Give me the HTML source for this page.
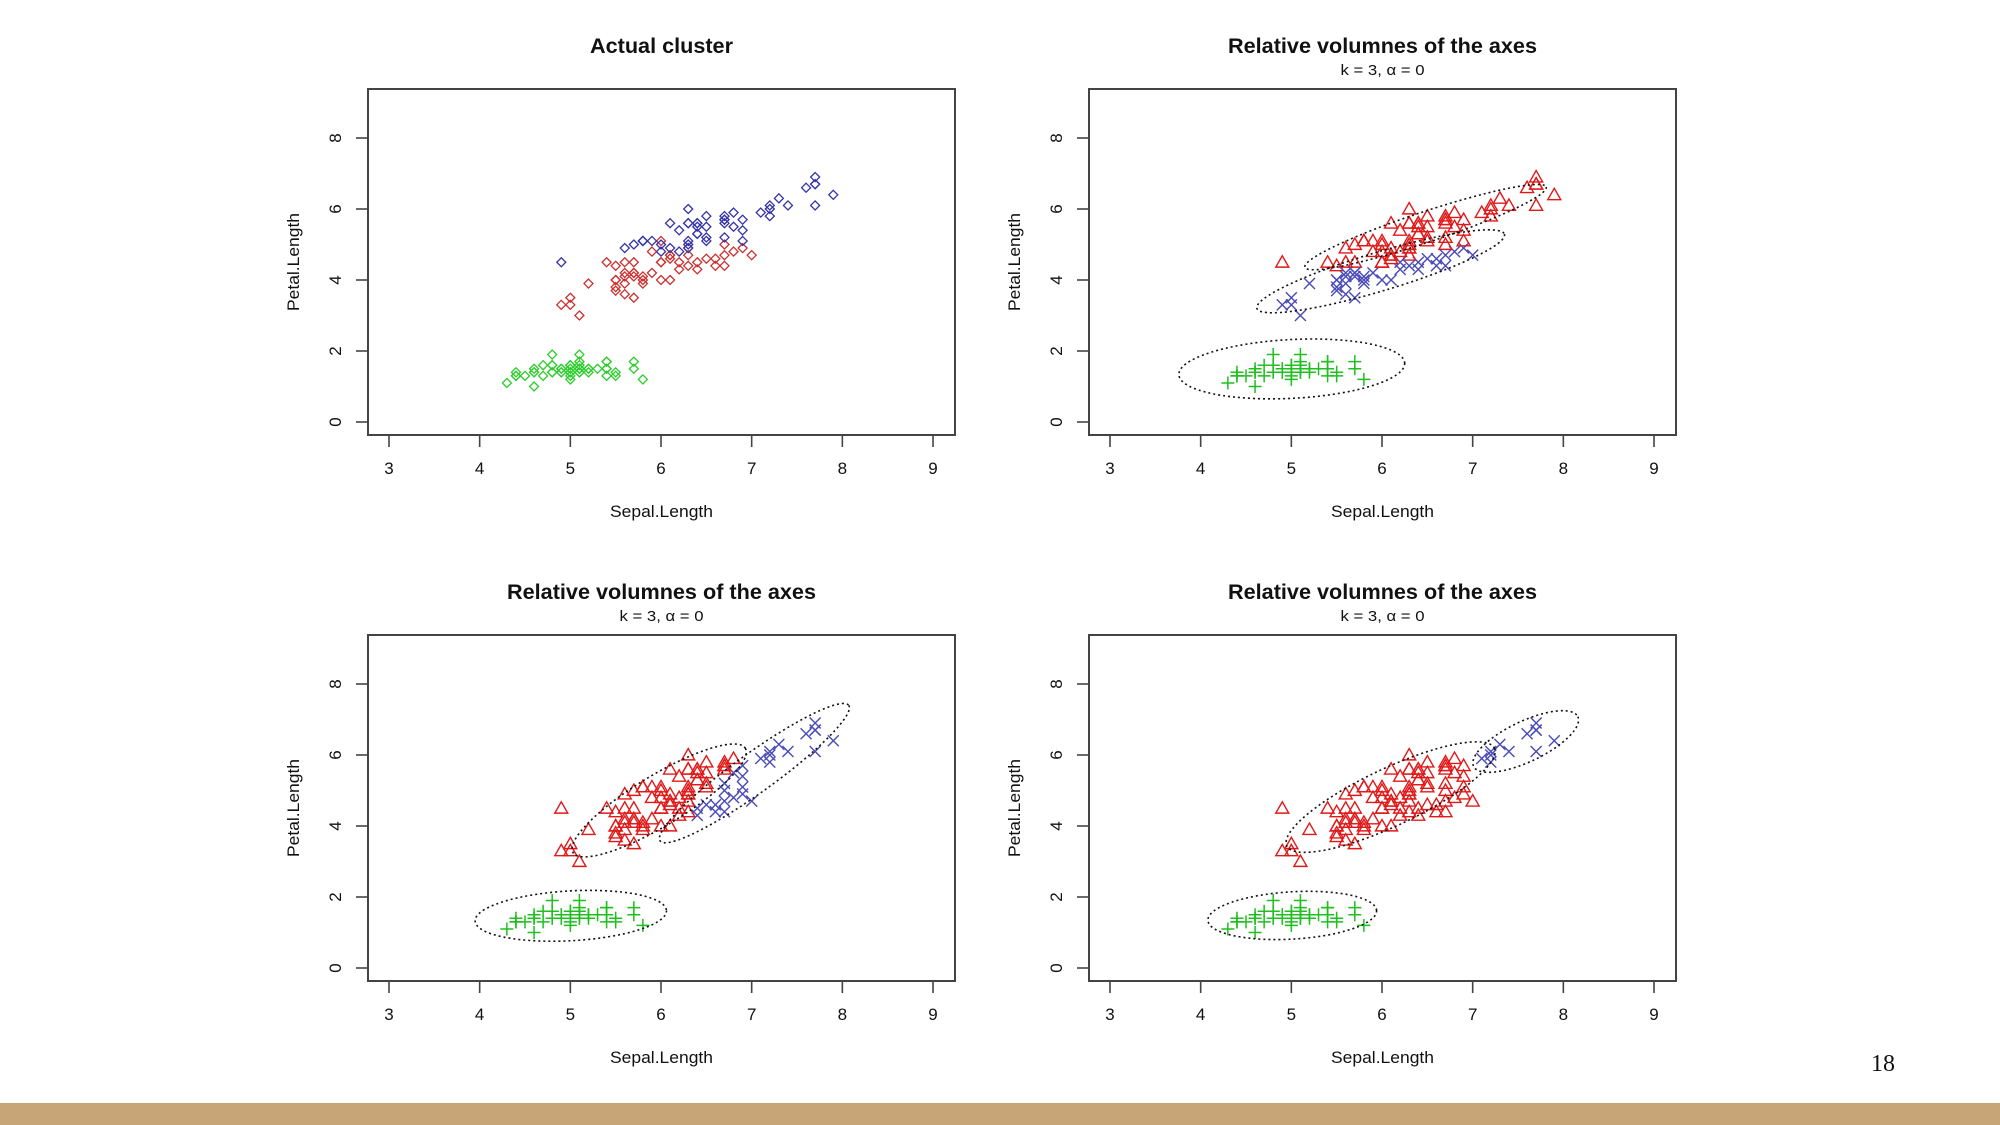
<!DOCTYPE html>
<html><head><meta charset="utf-8"><title>Iris clusters</title>
<style>
html,body{margin:0;padding:0;background:#fff;}
svg{display:block;}
text{font-family:"Liberation Sans",Arial,sans-serif;fill:#111;}
</style></head>
<body>
<svg id="chart" width="2000" height="1125" viewBox="0 0 2000 1125" xmlns="http://www.w3.org/2000/svg">
<rect x="0" y="0" width="2000" height="1125" fill="#fff"/>
<rect x="0" y="1103" width="2000" height="22" fill="#c8a576"/>
<text x="1883" y="1071" font-size="24" text-anchor="middle" style="font-family:'Liberation Serif',serif">18</text>
</svg>
<script>
const sepalLength = [5.1,4.9,4.7,4.6,5.0,5.4,4.6,5.0,4.4,4.9,5.4,4.8,4.8,4.3,5.8,5.7,5.4,5.1,5.7,5.1,5.4,5.1,4.6,5.1,4.8,5.0,5.0,5.2,5.2,4.7,4.8,5.4,5.2,5.5,4.9,5.0,5.5,4.9,4.4,5.1,5.0,4.5,4.4,5.0,5.1,4.8,5.1,4.6,5.3,5.0,
7.0,6.4,6.9,5.5,6.5,5.7,6.3,4.9,6.6,5.2,5.0,5.9,6.0,6.1,5.6,6.7,5.6,5.8,6.2,5.6,5.9,6.1,6.3,6.1,6.4,6.6,6.8,6.7,6.0,5.7,5.5,5.5,5.8,6.0,5.4,6.0,6.7,6.3,5.6,5.5,5.5,6.1,5.8,5.0,5.6,5.7,5.7,6.2,5.1,5.7,
6.3,5.8,7.1,6.3,6.5,7.6,4.9,7.3,6.7,7.2,6.5,6.4,6.8,5.7,5.8,6.4,6.5,7.7,7.7,6.0,6.9,5.6,7.7,6.3,6.7,7.2,6.2,6.1,6.4,7.2,7.4,7.9,6.4,6.3,6.1,7.7,6.3,6.4,6.0,6.9,6.7,6.9,5.8,6.8,6.7,6.7,6.3,6.5,6.2,5.9];
const petalLength = [1.4,1.4,1.3,1.5,1.4,1.7,1.4,1.5,1.4,1.5,1.5,1.6,1.4,1.1,1.2,1.5,1.3,1.4,1.7,1.5,1.7,1.5,1.0,1.7,1.9,1.6,1.6,1.5,1.4,1.6,1.6,1.5,1.5,1.4,1.5,1.2,1.3,1.4,1.3,1.5,1.3,1.3,1.3,1.6,1.9,1.4,1.6,1.4,1.5,1.4,
4.7,4.5,4.9,4.0,4.6,4.5,4.7,3.3,4.6,3.9,3.5,4.2,4.0,4.7,3.6,4.4,4.5,4.1,4.5,3.9,4.8,4.0,4.9,4.7,4.3,4.4,4.8,5.0,4.5,3.5,3.8,3.7,3.9,5.1,4.5,4.5,4.7,4.4,4.1,4.0,4.4,4.6,4.0,3.3,4.2,4.2,4.2,4.3,3.0,4.1,
6.0,5.1,5.9,5.6,5.8,6.6,4.5,6.3,5.8,6.1,5.1,5.3,5.5,5.0,5.1,5.3,5.5,6.7,6.9,5.0,5.7,4.9,6.7,4.9,5.7,6.0,4.8,4.9,5.6,5.8,6.1,6.4,5.6,5.1,5.6,6.1,5.6,5.5,4.8,5.4,5.6,5.1,5.1,5.9,5.7,5.2,5.0,5.2,5.4,5.1];
const speciesLabels = "g".repeat(50) + "r".repeat(50) + "b".repeat(50);
const clusterP2 = "g".repeat(50) + "bbbbbrrbbbbbbrbbrbbbrbrrbbbrrbbbbrrrbbbbrrbbbbbbbb" + "r".repeat(50);
const clusterP3 = "g".repeat(50) + "bbbrbrrrbrrrrrrbrrrrrrrrbbbbrrrrrrrrbrrrrrrrrrrrrr" + "rrbrrbrbrbrrbrrrrbbrbrbrrbrrrbbbrrrbrrrbrbrrrbrrrr";
const clusterP4 = "g".repeat(50) + "r".repeat(50) + "rrbrrbrbrbrrrrrrrbbrrrbrrbrrrbbbrrrbrrrrrrrrrrrrrr";
const xTicks = [3,4,5,6,7,8,9];
const yTicks = [0,2,4,6,8];
// ellipses: [x1,y1,x2,y2,ratio] major-axis endpoints in data units
const ellipsesP2 = [[3.76,1.33,6.25,1.66,0.26],[4.62,3.2,7.35,5.29,0.15],[5.15,4.36,7.81,6.62,0.12]];
const ellipsesP3 = [[3.95,1.32,6.06,1.62,0.26],[5.03,3.25,6.93,6.19,0.25],[5.99,3.58,8.07,7.40,0.17]];
const ellipsesP4 = [[4.08,1.34,5.94,1.62,0.28],[4.95,3.44,7.24,6.19,0.25],[7.01,5.68,8.16,7.08,0.35]];

const NS = "http://www.w3.org/2000/svg";
const svg = document.getElementById('chart');
function mk(tag, attrs, parent){ const e=document.createElementNS(NS,tag); for(const k in attrs) e.setAttribute(k,attrs[k]); (parent||svg).appendChild(e); return e; }

const panels = [
 {ox:0, oy:0, title:'Actual cluster', sub:false, clusters:speciesLabels, marker:'diamond', ellipses:[], name:'actual-cluster'},
 {ox:721, oy:0, title:'Relative volumnes of the axes', sub:true, clusters:clusterP2, marker:'mix', ellipses:ellipsesP2, name:'cluster-panel-2'},
 {ox:0, oy:546, title:'Relative volumnes of the axes', sub:true, clusters:clusterP3, marker:'mix', ellipses:ellipsesP3, name:'cluster-panel-3'},
 {ox:721, oy:546, title:'Relative volumnes of the axes', sub:true, clusters:clusterP4, marker:'mix', ellipses:ellipsesP4, name:'cluster-panel-4'}
];
const colorsDiamond = {g:'#2ccc2c', r:'#cc3030', b:'#3434a8'};
const colorsMix = {g:'#1fbf1f', r:'#e01818', b:'#4a4ab8'};

panels.forEach(p=>{
  const g = mk('g',{});
  
  
  const L=368+p.ox, R=955+p.ox, T=89+p.oy, B=435+p.oy;
  const xs = v => 389 + p.ox + (v-3)*90.67;
  const ys = v => 422 + p.oy - v*35.5;
  const cx = (L+R)/2;
  const t = mk('text',{x:cx, y:53+p.oy, 'font-size':21, 'font-weight':'bold', 'text-anchor':'middle', textLength: p.sub?309:143, lengthAdjust:'spacingAndGlyphs'}, g);
  t.textContent = p.title;
  
  
  if(p.sub){
    const s = mk('text',{x:cx, y:75+p.oy, 'font-size':15, 'text-anchor':'middle', textLength:84, lengthAdjust:'spacingAndGlyphs'}, g);
    s.textContent = 'k = 3, \u03B1 = 0';
    
    
  }
  const box = mk('rect',{x:L, y:T, width:R-L, height:B-T, fill:'none', stroke:'#444', 'stroke-width':2}, g);
  
  
  xTicks.forEach(v=>{
    const ln = mk('line',{x1:xs(v), x2:xs(v), y1:B, y2:B+12, stroke:'#444', 'stroke-width':1.6}, g);
    
    
    const tl = mk('text',{x:xs(v), y:474+p.oy, 'font-size':17, 'text-anchor':'middle'}, g);
    tl.textContent = v;
    
    
  });
  yTicks.forEach(v=>{
    const ln = mk('line',{x1:L-12, x2:L, y1:ys(v), y2:ys(v), stroke:'#444', 'stroke-width':1.6}, g);
    
    
    const tl = mk('text',{x:341+p.ox, y:ys(v), 'font-size':17, 'text-anchor':'middle', transform:`rotate(-90 ${341+p.ox} ${ys(v)})`}, g);
    tl.textContent = v;
    
    
  });
  const xl = mk('text',{x:cx, y:517+p.oy, 'font-size':17, 'text-anchor':'middle', textLength:103, lengthAdjust:'spacingAndGlyphs'}, g);
  xl.textContent = 'Sepal.Length';
  
  
  const yy = (T+B)/2;
  const yl = mk('text',{x:299+p.ox, y:yy, 'font-size':17, 'text-anchor':'middle', textLength:98, lengthAdjust:'spacingAndGlyphs', transform:`rotate(-90 ${299+p.ox} ${yy})`}, g);
  yl.textContent = 'Petal.Length';
  
  

  // points
  for(let i=0;i<sepalLength.length;i++){
    const X = xs(sepalLength[i]), Y = ys(petalLength[i]);
    const c = p.clusters[i];
    let e;
    if(p.marker==='diamond'){
      const h=4.5;
      e = mk('polygon',{points:`${X},${Y-h} ${X+h},${Y} ${X},${Y+h} ${X-h},${Y}`, fill:'none', stroke:colorsDiamond[c], 'stroke-width':1.3}, g);
    } else if(c==='g'){
      const h=6.5;
      e = mk('path',{d:`M${X-h},${Y}H${X+h}M${X},${Y-h}V${Y+h}`, stroke:colorsMix.g, 'stroke-width':1.5, fill:'none'}, g);
    } else if(c==='r'){
      const h=6.5;
      e = mk('polygon',{points:`${X},${Y-h} ${X+h},${Y+h*0.75} ${X-h},${Y+h*0.75}`, fill:'none', stroke:colorsMix.r, 'stroke-width':1.4}, g);
    } else {
      const h=5.5;
      e = mk('path',{d:`M${X-h},${Y-h}L${X+h},${Y+h}M${X-h},${Y+h}L${X+h},${Y-h}`, stroke:colorsMix.b, 'stroke-width':1.4, fill:'none'}, g);
    }
    
    
  }
  // ellipses
  p.ellipses.forEach(el=>{
    const x1=xs(el[0]), y1=ys(el[1]), x2=xs(el[2]), y2=ys(el[3]);
    const ecx=(x1+x2)/2, ecy=(y1+y2)/2;
    const rx=Math.hypot(x2-x1,y2-y1)/2, ry=rx*el[4];
    const ang=Math.atan2(y2-y1,x2-x1)*180/Math.PI;
    const e = mk('ellipse',{cx:ecx, cy:ecy, rx:rx, ry:ry, transform:`rotate(${ang} ${ecx} ${ecy})`, fill:'none', stroke:'#111', 'stroke-width':1.6, 'stroke-dasharray':'2 3'}, g);
    
    
  });
});
</script>
</body></html>
